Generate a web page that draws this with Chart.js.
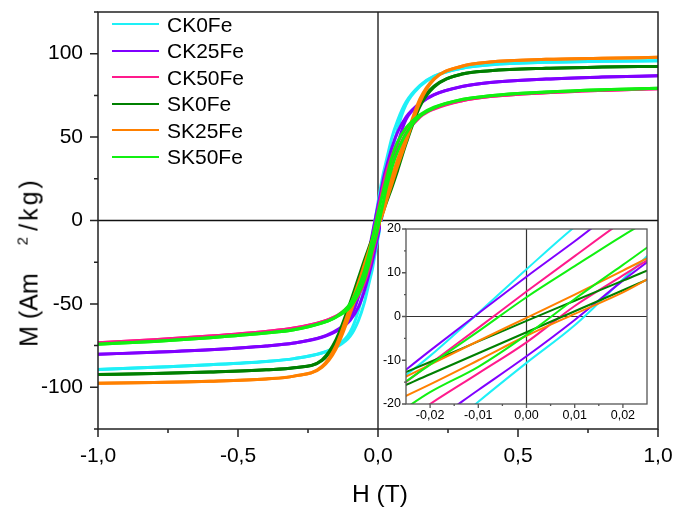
<!DOCTYPE html>
<html>
<head>
<meta charset="utf-8">
<script src="https://cdn.jsdelivr.net/npm/chart.js@4.4.1/dist/chart.umd.min.js"></script>
<style>
  html, body { margin: 0; padding: 0; background: #fff; }
  #wrap { position: relative; width: 675px; height: 507px; font-family: "Liberation Sans", Arial, sans-serif; color: #000; }
  #main { position: absolute; left: 0; top: 0; }
  #inset { position: absolute; left: 381px; top: 222px; background: #fff; }
  #legend { position: absolute; left: 112px; top: 11px; }
  .row { display: flex; align-items: center; height: 26.5px; }
  .swatch { width: 47px; height: 2px; margin-right: 8px; }
  .lbl { font-size: 21px; line-height: 1; }
  #ytitle { position: absolute; left: 29px; top: 262px; white-space: nowrap; font-size: 25px;
            transform: translate(-50%, -50%) rotate(-90deg); }
  #ytitle .sup { font-size: 15px; position: relative; top: -10px; margin-left: 28px; margin-right: 6px; }
  #ytitle .tail { letter-spacing: 3px; }
  #xtitle { position: absolute; left: 380px; top: 494px; white-space: nowrap; font-size: 24.5px;
            transform: translate(-50%, -50%); }
</style>
</head>
<body>
<div id="wrap">
  <canvas id="main" width="675" height="507"></canvas>
  <canvas id="inset" width="274" height="205"></canvas>
  <div id="legend"></div>
  <div id="ytitle">M (Am<span class="sup">2</span><span class="tail">/kg)</span></div>
  <div id="xtitle">H (T)</div>
</div>
<script>
// campo aplicado (T): rama descendente y rama ascendente
const fieldDown = [1, 0.8, 0.6, 0.4, 0.3, 0.2, 0.15, 0.1, 0.07, 0.05, 0.03, 0.02, 0.01, 0,
  -0.01, -0.02, -0.03, -0.05, -0.07, -0.1, -0.15, -0.2, -0.3, -0.4, -0.6, -0.8, -1];
const fieldUp = [-1, -0.8, -0.6, -0.4, -0.3, -0.2, -0.15, -0.1, -0.07, -0.05, -0.03, -0.02, -0.01, 0,
  0.01, 0.02, 0.03, 0.05, 0.07, 0.1, 0.15, 0.2, 0.3, 0.4, 0.6, 0.8, 1];

// magnetización (Am2/kg)
const ck0Down = [95.8, 95.4, 94.8, 93.3, 91.3, 86.5, 81, 71, 60, 50, 36, 29, 20.5, 10.8,
  0.8, -9, -18, -40, -54, -67, -75.5, -79.3, -82.8, -84.5, -86.5, -88, -89.4];
const ck0Up = [-89.4, -88, -86.5, -84.5, -82.8, -79.5, -76, -69.5, -60, -50, -36, -29, -19.5, -10.6,
  -2, 8.5, 19, 40, 55, 69.5, 80.5, 86.3, 91.3, 93.3, 94.8, 95.4, 95.8];

const ck25Down = [86.8, 86, 84.8, 82.7, 80.3, 75.5, 70.5, 62, 53, 44, 32, 25.5, 17.2, 9.1,
  0.7, -7.8, -16.5, -33, -46, -58.5, -66, -69.8, -73.5, -75.3, -77.5, -79, -80.2];
const ck25Up = [-80.2, -79, -77.5, -75.3, -73.5, -70, -66.5, -60, -52, -43, -31, -24.5, -16.8, -9.1,
  -0.8, 8.2, 16.5, 33, 46, 60.5, 70, 75.3, 80.3, 82.7, 84.8, 86, 86.8];

const ck50Down = [79, 78, 76.6, 74.3, 71.8, 67.3, 62.8, 55, 47, 39, 29, 21.8, 13.8, 5.7,
  -2.6, -10.8, -19, -33, -41, -50.5, -57.3, -60.7, -64.5, -66.5, -69.3, -71.5, -73.3];
const ck50Up = [-73.3, -71.5, -69.3, -66.5, -64.5, -60.8, -57.5, -52, -45, -38, -27.5, -20, -13, -5.9,
  2.4, 9.4, 16.4, 33, 42, 52, 62, 66.8, 71.8, 74.3, 76.6, 78, 79];

const sk0Down = [92.4, 92, 91.3, 89.8, 87.8, 80.5, 70, 48, 33, 22.5, 12.8, 8.2, 3.6, -1,
  -5.7, -10.4, -15, -24.5, -34.5, -49.5, -71.5, -83.5, -88.3, -89.5, -90.8, -91.7, -92.4];
const sk0Up = [-92.4, -91.7, -90.8, -89.5, -88.3, -84, -73, -52, -37, -27, -18, -13.2, -8.4, -3.6,
  1.2, 6, 10.8, 20, 30, 46, 68.5, 80, 87.8, 89.8, 91.3, 92, 92.4];

const sk25Down = [97.8, 97.3, 96.6, 95, 92.5, 85, 73, 50, 36.5, 26.5, 16, 10.5, 5, -0.3,
  -5.6, -11, -16.5, -27, -37.5, -52, -75, -87.5, -93.3, -95, -96.4, -97.1, -97.6];
const sk25Up = [-97.6, -97.1, -96.4, -95, -93.3, -88, -77, -56, -41.5, -31, -20.7, -15.5, -10, -4.4,
  0.6, 5.5, 11.5, 22, 32.5, 47, 71, 84.5, 92.5, 95, 96.6, 97.3, 97.8];

const sk50Down = [79.3, 78.4, 77, 74.8, 72.5, 68, 63.5, 55.5, 47, 38, 25, 18.5, 11.5, 4.4,
  -3.4, -11, -18.5, -31, -40, -50, -57.8, -61.4, -65.5, -67.5, -70.3, -72.5, -74.2];
const sk50Up = [-74.2, -72.5, -70.3, -67.5, -65.5, -61.5, -58, -52, -44, -36, -24.5, -17.3, -11.5, -4.2,
  4, 11.8, 19.5, 32, 41.5, 52, 62.5, 67.5, 72.5, 74.8, 77, 78.4, 79.3];

const names = ["CK0Fe", "CK25Fe", "CK50Fe", "SK0Fe", "SK25Fe", "SK50Fe"];
const colors = ["#1ef0f7", "#8000ff", "#ff1a8c", "#008000", "#ff8000", "#11f011"];
const branches = [
  [ck0Down, ck0Up], [ck25Down, ck25Up], [ck50Down, ck50Up],
  [sk0Down, sk0Up], [sk25Down, sk25Up], [sk50Down, sk50Up],
];

// ticks
const mainXMajor = [-1, -0.5, 0, 0.5, 1];
const mainXMinor = [-0.75, -0.25, 0.25, 0.75];
const mainYMajor = [-100, -50, 0, 50, 100];
const mainYMinor = [-125, -75, -25, 25, 75, 125];
const insetXMajor = [-0.02, -0.01, 0, 0.01, 0.02];
const insetXMinor = [-0.015, -0.005, 0.005, 0.015];
const insetYMajor = [-20, -10, 0, 10, 20];
const insetYMinor = [-15, -5, 5, 15];

const FONT = '"Liberation Sans", Arial, sans-serif';

function makeDatasets(width) {
  return branches.flatMap(([down, up], i) =>
    [[fieldDown, down], [fieldUp, up]].map(([field, values]) => ({
      label: names[i],
      data: field.map((h, k) => ({ x: h, y: values[k] })),
      showLine: true,
      borderColor: colors[i],
      backgroundColor: colors[i],
      borderWidth: width,
      pointRadius: 0,
      cubicInterpolationMode: "monotone",
      order: names.length - i,
    })),
  );
}

function tickList(major, minor) {
  return (scale) => {
    scale.ticks = [...major, ...minor].sort((a, b) => a - b).map((v) => ({ value: v }));
  };
}

// marco, líneas del cero y marcas de los ejes
const axesPlugin = {
  id: "axes",
  beforeDatasetsDraw(chart, args, opts) {
    const { ctx, chartArea: a, scales } = chart;
    const x0 = scales.x.getPixelForValue(0);
    const y0 = scales.y.getPixelForValue(0);
    ctx.save();
    ctx.strokeStyle = opts.zeroColor;
    ctx.lineWidth = opts.zeroWidth;
    ctx.beginPath();
    ctx.moveTo(x0, a.top);
    ctx.lineTo(x0, a.bottom);
    ctx.moveTo(a.left, y0);
    ctx.lineTo(a.right, y0);
    ctx.stroke();
    ctx.restore();
  },
  afterDraw(chart, args, opts) {
    const { ctx, chartArea: a, scales } = chart;
    ctx.save();
    ctx.strokeStyle = opts.color;
    ctx.lineWidth = opts.width;
    ctx.strokeRect(a.left, a.top, a.right - a.left, a.bottom - a.top);
    ctx.beginPath();
    for (const t of scales.x.ticks) {
      const px = scales.x.getPixelForValue(t.value);
      const len = t.label ? opts.major : opts.minor;
      ctx.moveTo(px, a.bottom);
      ctx.lineTo(px, a.bottom + len);
    }
    for (const t of scales.y.ticks) {
      const py = scales.y.getPixelForValue(t.value);
      const len = t.label ? opts.major : opts.minor;
      ctx.moveTo(a.left, py);
      ctx.lineTo(a.left - len, py);
    }
    ctx.stroke();
    ctx.restore();
  },
};

function axisOptions(min, max, major, minor, fmt, fontSize, padding, size) {
  return {
    type: "linear",
    min,
    max,
    afterBuildTicks: tickList(major, minor),
    afterFit: (s) => {
      if (s.isHorizontal()) s.height = size;
      else s.width = size;
      s.paddingTop = s.paddingBottom = s.paddingLeft = s.paddingRight = 0;
    },
    grid: { display: false, drawTicks: false },
    border: { display: false },
    ticks: {
      autoSkip: false,
      maxRotation: 0,
      padding,
      color: "#000",
      font: { family: FONT, size: fontSize },
      callback: (v) => (major.includes(v) ? fmt(v) : ""),
    },
  };
}

const comma1 = (v) => v.toFixed(1).replace(".", ",");
const comma2 = (v) => v.toFixed(2).replace(".", ",");

new Chart(document.getElementById("main"), {
  type: "scatter",
  data: { datasets: makeDatasets(3) },
  options: {
    animation: false,
    responsive: false,
    layout: { padding: { top: 12, right: 17, left: 0, bottom: 0 }, autoPadding: false },
    plugins: {
      legend: { display: false },
      tooltip: { enabled: false },
      axes: { color: "#222", width: 1.5, major: 8, minor: 4, zeroColor: "#111", zeroWidth: 1.3 },
    },
    scales: {
      x: axisOptions(-1, 1, mainXMajor, mainXMinor, comma1, 21, 15, 78),
      y: axisOptions(-125, 125, mainYMajor, mainYMinor, (v) => String(v), 21, 15, 98),
    },
  },
  plugins: [axesPlugin],
});

new Chart(document.getElementById("inset"), {
  type: "scatter",
  data: { datasets: makeDatasets(2) },
  options: {
    animation: false,
    responsive: false,
    layout: { padding: { top: 7, right: 8, left: 0, bottom: 0 }, autoPadding: false },
    plugins: {
      legend: { display: false },
      tooltip: { enabled: false },
      axes: { color: "#555", width: 1.3, major: 4, minor: 2, zeroColor: "#333", zeroWidth: 1.2 },
    },
    scales: {
      x: axisOptions(-0.025, 0.025, insetXMajor, insetXMinor, comma2, 12.5, 4, 23),
      y: axisOptions(-20, 20, insetYMajor, insetYMinor, (v) => String(v), 12.5, 5, 25),
    },
  },
  plugins: [axesPlugin],
});

document.getElementById("legend").innerHTML = names
  .map(
    (name, i) => `
      <div class="row">
        <span class="swatch" style="background:${colors[i]}"></span>
        <span class="lbl">${name}</span>
      </div>`,
  )
  .join("");
</script>
</body>
</html>
